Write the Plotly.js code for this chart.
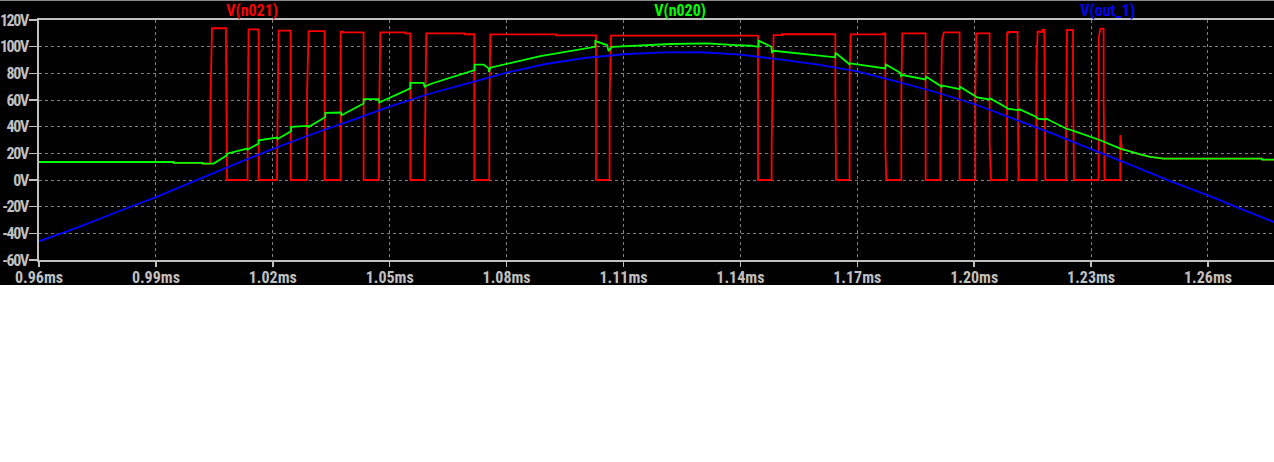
<!DOCTYPE html>
<html><head><meta charset="utf-8">
<script src="https://cdn.plot.ly/plotly-3.0.1.min.js"></script>
<style>html,body{margin:0;padding:0;background:#fff;overflow:hidden}#chart{width:1274px;height:462px}
#chart text{font-stretch:condensed !important}
#chart .ytick text{letter-spacing:-1.4px}
</style>
</head><body><div id="chart"></div>
<script>
// ---- tick definitions ----
const xTickVals = [0.96, 0.99, 1.02, 1.05, 1.08, 1.11, 1.14, 1.17, 1.20, 1.23, 1.26];
const xTickText = ["0.96ms", "0.99ms", "1.02ms", "1.05ms", "1.08ms", "1.11ms", "1.14ms", "1.17ms", "1.20ms", "1.23ms", "1.26ms"];
const yTickVals = [-60, -40, -20, 0, 20, 40, 60, 80, 100, 120];
const yTickText = ["-60V", "-40V", "-20V", "0V", "20V", "40V", "60V", "80V", "100V", "120V"];
const seriesNames = ["V(n021)", "V(n020)", "V(out_1)"];

// ---- V(n021) (red, switching node) time in ms, value in V ----
const n021T = [0.96, 0.99454, 0.99456, 1.00198, 1.00200, 1.00394, 1.00400, 1.00440, 1.00799, 1.00800, 1.00825,
  1.01353, 1.01354, 1.01379, 1.01636, 1.01637,
  1.02108, 1.02109, 1.02149, 1.02457, 1.02458,
  1.02878, 1.02879, 1.02919, 1.03329, 1.03330,
  1.03740, 1.03741, 1.03802, 1.03803, 1.04330, 1.04331,
  1.04725, 1.04726, 1.04759, 1.05400, 1.05401, 1.05529, 1.05530,
  1.05896, 1.05897, 1.05939, 1.06922, 1.06923, 1.07171, 1.07172,
  1.07556, 1.07557, 1.07582, 1.09268, 1.09269, 1.10294, 1.10295,
  1.10643, 1.10644, 1.10679, 1.14452, 1.14453,
  1.14801, 1.14802, 1.14852, 1.15068, 1.15069, 1.16436, 1.16437, 1.16454,
  1.16802, 1.16803, 1.16830, 1.17667, 1.17668, 1.17719, 1.17720, 1.17745,
  1.18129, 1.18130, 1.18155, 1.18753, 1.18754,
  1.19130, 1.19131, 1.19174, 1.19222, 1.19625, 1.19626,
  1.20028, 1.20029, 1.20054, 1.20395, 1.20396, 1.20431,
  1.20842, 1.20843, 1.20867, 1.20868, 1.21114, 1.21115, 1.21140,
  1.21594, 1.21595, 1.21627, 1.21750, 1.21751, 1.21800, 1.21825,
  1.22356, 1.22357, 1.22382, 1.22536, 1.22537, 1.22561,
  1.23193, 1.23194, 1.23236, 1.23321, 1.23322, 1.23346,
  1.23749, 1.23750, 1.23790, 1.23880, 1.24263, 1.24519, 1.24861, 1.27386, 1.27394, 1.27700];
const n021V = [13.5, 13.5, 12.8, 12.8, 12.3, 12.3, 60, 113.8, 113.8, 100, 0,
  0, 43.6, 113, 113, 0,
  0, 12, 112, 112, 0,
  0, 66, 111.7, 111.7, 0,
  0, 111.2, 111.2, 110.7, 110.7, 0,
  0, 42.4, 110.7, 110.7, 110, 110, 0,
  0, 12, 110, 110, 109.3, 109.3, 0,
  0, 54.8, 109.2, 109.2, 108.5, 108.5, 0,
  0, 60, 108.3, 108.3, 0,
  0, 27.8, 108.7, 108.7, 109.3, 109.3, 66, 0,
  0, 80, 109.2, 109.2, 110, 110, 25, 0,
  0, 67, 110, 110, 0,
  0, 28.5, 105, 110.7, 110.7, 0,
  0, 66, 110, 110, 28, 0,
  0, 110, 110, 111, 111, 66, 0,
  0, 86, 111.2, 111.2, 112.5, 112.5, 0,
  0, 41, 112.5, 112.5, 73, 0,
  0, 106, 113.5, 113.5, 60, 0,
  0, 33.6, 23, 22.5, 19.3, 17.3, 16.0, 16.0, 15.3, 15.3];

// ---- V(n020) (green) ----
const n020T = [0.96, 0.99454, 0.99456, 1.00198, 1.00200, 1.00481, 1.00825, 1.00826, 1.01338, 1.01353, 1.01379,
  1.01636, 1.01637, 1.02108, 1.02123, 1.02467, 1.02468, 1.02903, 1.02919, 1.03347, 1.03348,
  1.03750, 1.03766, 1.04330, 1.04331, 1.04715, 1.04733, 1.05529, 1.05530, 1.05870, 1.05896,
  1.06042, 1.07179, 1.07180, 1.07410, 1.07538, 1.07548, 1.07582, 1.08865, 1.10276, 1.10277,
  1.10577, 1.10618, 1.10705, 1.12201, 1.13143, 1.13869, 1.14254, 1.14467, 1.14468, 1.14793,
  1.14811, 1.14852, 1.16436, 1.16437, 1.16777, 1.16795, 1.16820, 1.17719, 1.17731, 1.18104,
  1.18122, 1.18163, 1.18745, 1.18771, 1.19148, 1.19163, 1.19174, 1.19625, 1.19636, 1.20028,
  1.20072, 1.20395, 1.20413, 1.20824, 1.20857, 1.21140, 1.21158, 1.21594, 1.21627, 1.21825,
  1.21843, 1.22356, 1.22551, 1.23236, 1.23750, 1.24263, 1.24519, 1.24861, 1.27386, 1.27394, 1.27700];
const n020V = [13.5, 13.5, 12.8, 12.8, 12.3, 12.3, 18.5, 19.8, 23.6, 22.3, 23.3,
  27.3, 29.8, 31.8, 30.8, 36.6, 39.8, 40.6, 39.8, 47.3, 50.3,
  50.6, 48.6, 57.4, 60.6, 60.6, 58.1, 68.7, 72.9, 72.9, 69.9,
  72, 82.4, 86.6, 86.6, 83.7, 81.1, 84.2, 92.9, 99.9, 104.2,
  101.2, 96.7, 99.9, 102, 102.5, 101.2, 100.7, 99.9, 104.5, 99.9,
  95.4, 96.9, 92, 95.4, 87.4, 86.7, 87.4, 83.7, 86.7, 80.4,
  77.9, 78.7, 75.4, 77.4, 70.4, 69.4, 70.9, 68.1, 69.9, 62.9,
  61.9, 60.4, 61.1, 54.4, 53.6, 52.4, 53.1, 47.3, 46.1, 45.4,
  46.1, 38.6, 36.8, 29.8, 23.6, 19.3, 17.3, 16.0, 16.0, 15.3, 15.3];

// ---- V(out_1) (blue) ----
const out1T = [0.96, 0.97, 0.98, 0.99, 1.00, 1.01, 1.02, 1.03, 1.04, 1.05, 1.06, 1.07, 1.08, 1.09, 1.10,
  1.11, 1.12, 1.13, 1.14, 1.15, 1.16, 1.17, 1.18, 1.19, 1.20, 1.21, 1.22, 1.23, 1.24, 1.25, 1.26, 1.27, 1.277];
const out1V = [-46, -35.5, -24, -12.8, -0.6, 11.5, 23.3, 34.3, 44.5, 55, 64.5, 72.5, 80.5, 87, 91.5,
  94.3, 95.7, 95.8, 94, 90.5, 86.5, 81.5, 74, 66, 57, 46, 35, 23.2, 11.5, -0.5, -11.5, -23.5, -31.6];

const FONT = "Roboto, sans-serif";
const colors = ["#ff0000", "#00ff00", "#0000ff"];
const LW = 1.8;

const traces = [
  {x: n021T, y: n021V, type: "scatter", mode: "lines", line: {color: colors[0], width: LW, simplify: false}, name: seriesNames[0]},
  {x: n020T, y: n020V, type: "scatter", mode: "lines", line: {color: colors[1], width: LW, simplify: false}, name: seriesNames[1]},
  {x: out1T, y: out1V, type: "scatter", mode: "lines", line: {color: colors[2], width: LW, simplify: false}, name: seriesNames[2]}
];

const tickFont = {family: FONT, size: 16, color: "#c0c0c0", weight: "bold"};
const layout = {
  width: 1274, height: 462,
  margin: {l: 39, r: 0, t: 20, b: 202, pad: 0},
  paper_bgcolor: "#ffffff",
  plot_bgcolor: "#000000",
  showlegend: false,
  hovermode: false,
  xaxis: {
    range: [0.96, 1.27694], tickvals: xTickVals, ticktext: xTickText,
    showline: true, mirror: true, linecolor: "#c0c0c0", linewidth: 2,
    ticks: "outside", ticklen: 5, tickwidth: 1.5, tickcolor: "#c0c0c0",
    showgrid: true, gridcolor: "#808080", gridwidth: 1, griddash: "3px,3px",
    zeroline: false, tickfont: tickFont, fixedrange: true, ticklabelstandoff: -3
  },
  yaxis: {
    range: [-60, 120], tickvals: yTickVals, ticktext: yTickText,
    showline: true, linecolor: "#c0c0c0", linewidth: 2,
    ticks: "outside", ticklen: 8, tickwidth: 1.5, tickcolor: "#c0c0c0",
    showgrid: true, gridcolor: "#808080", gridwidth: 1, griddash: "3px,3px",
    zeroline: false, tickfont: tickFont, fixedrange: true, ticklabelstandoff: -2
  },
  shapes: [
    {type: "rect", xref: "paper", yref: "paper", x0: -0.05, x1: 1.02, y0: -0.10417, y1: 1.2,
     fillcolor: "#000000", line: {width: 0}, layer: "below"},
    {type: "line", xref: "paper", yref: "paper", x0: -0.05, x1: 1.02, y0: 1.0813, y1: 1.0813,
     line: {color: "#8c8c8c", width: 1}, layer: "above"}
  ],
  annotations: [
    {text: seriesNames[0], xref: "paper", yref: "paper", x: 0.1723, y: 1.0375, xanchor: "center", yanchor: "middle", showarrow: false, font: {family: FONT, size: 16, color: colors[0], weight: "bold"}},
    {text: seriesNames[1], xref: "paper", yref: "paper", x: 0.5190, y: 1.0375, xanchor: "center", yanchor: "middle", showarrow: false, font: {family: FONT, size: 16, color: colors[1], weight: "bold"}},
    {text: seriesNames[2], xref: "paper", yref: "paper", x: 0.8654, y: 1.0375, xanchor: "center", yanchor: "middle", showarrow: false, font: {family: FONT, size: 16, color: colors[2], weight: "bold"}}
  ]
};

Plotly.newPlot("chart", traces, layout, {staticPlot: true, displayModeBar: false});
</script>
</body></html>
